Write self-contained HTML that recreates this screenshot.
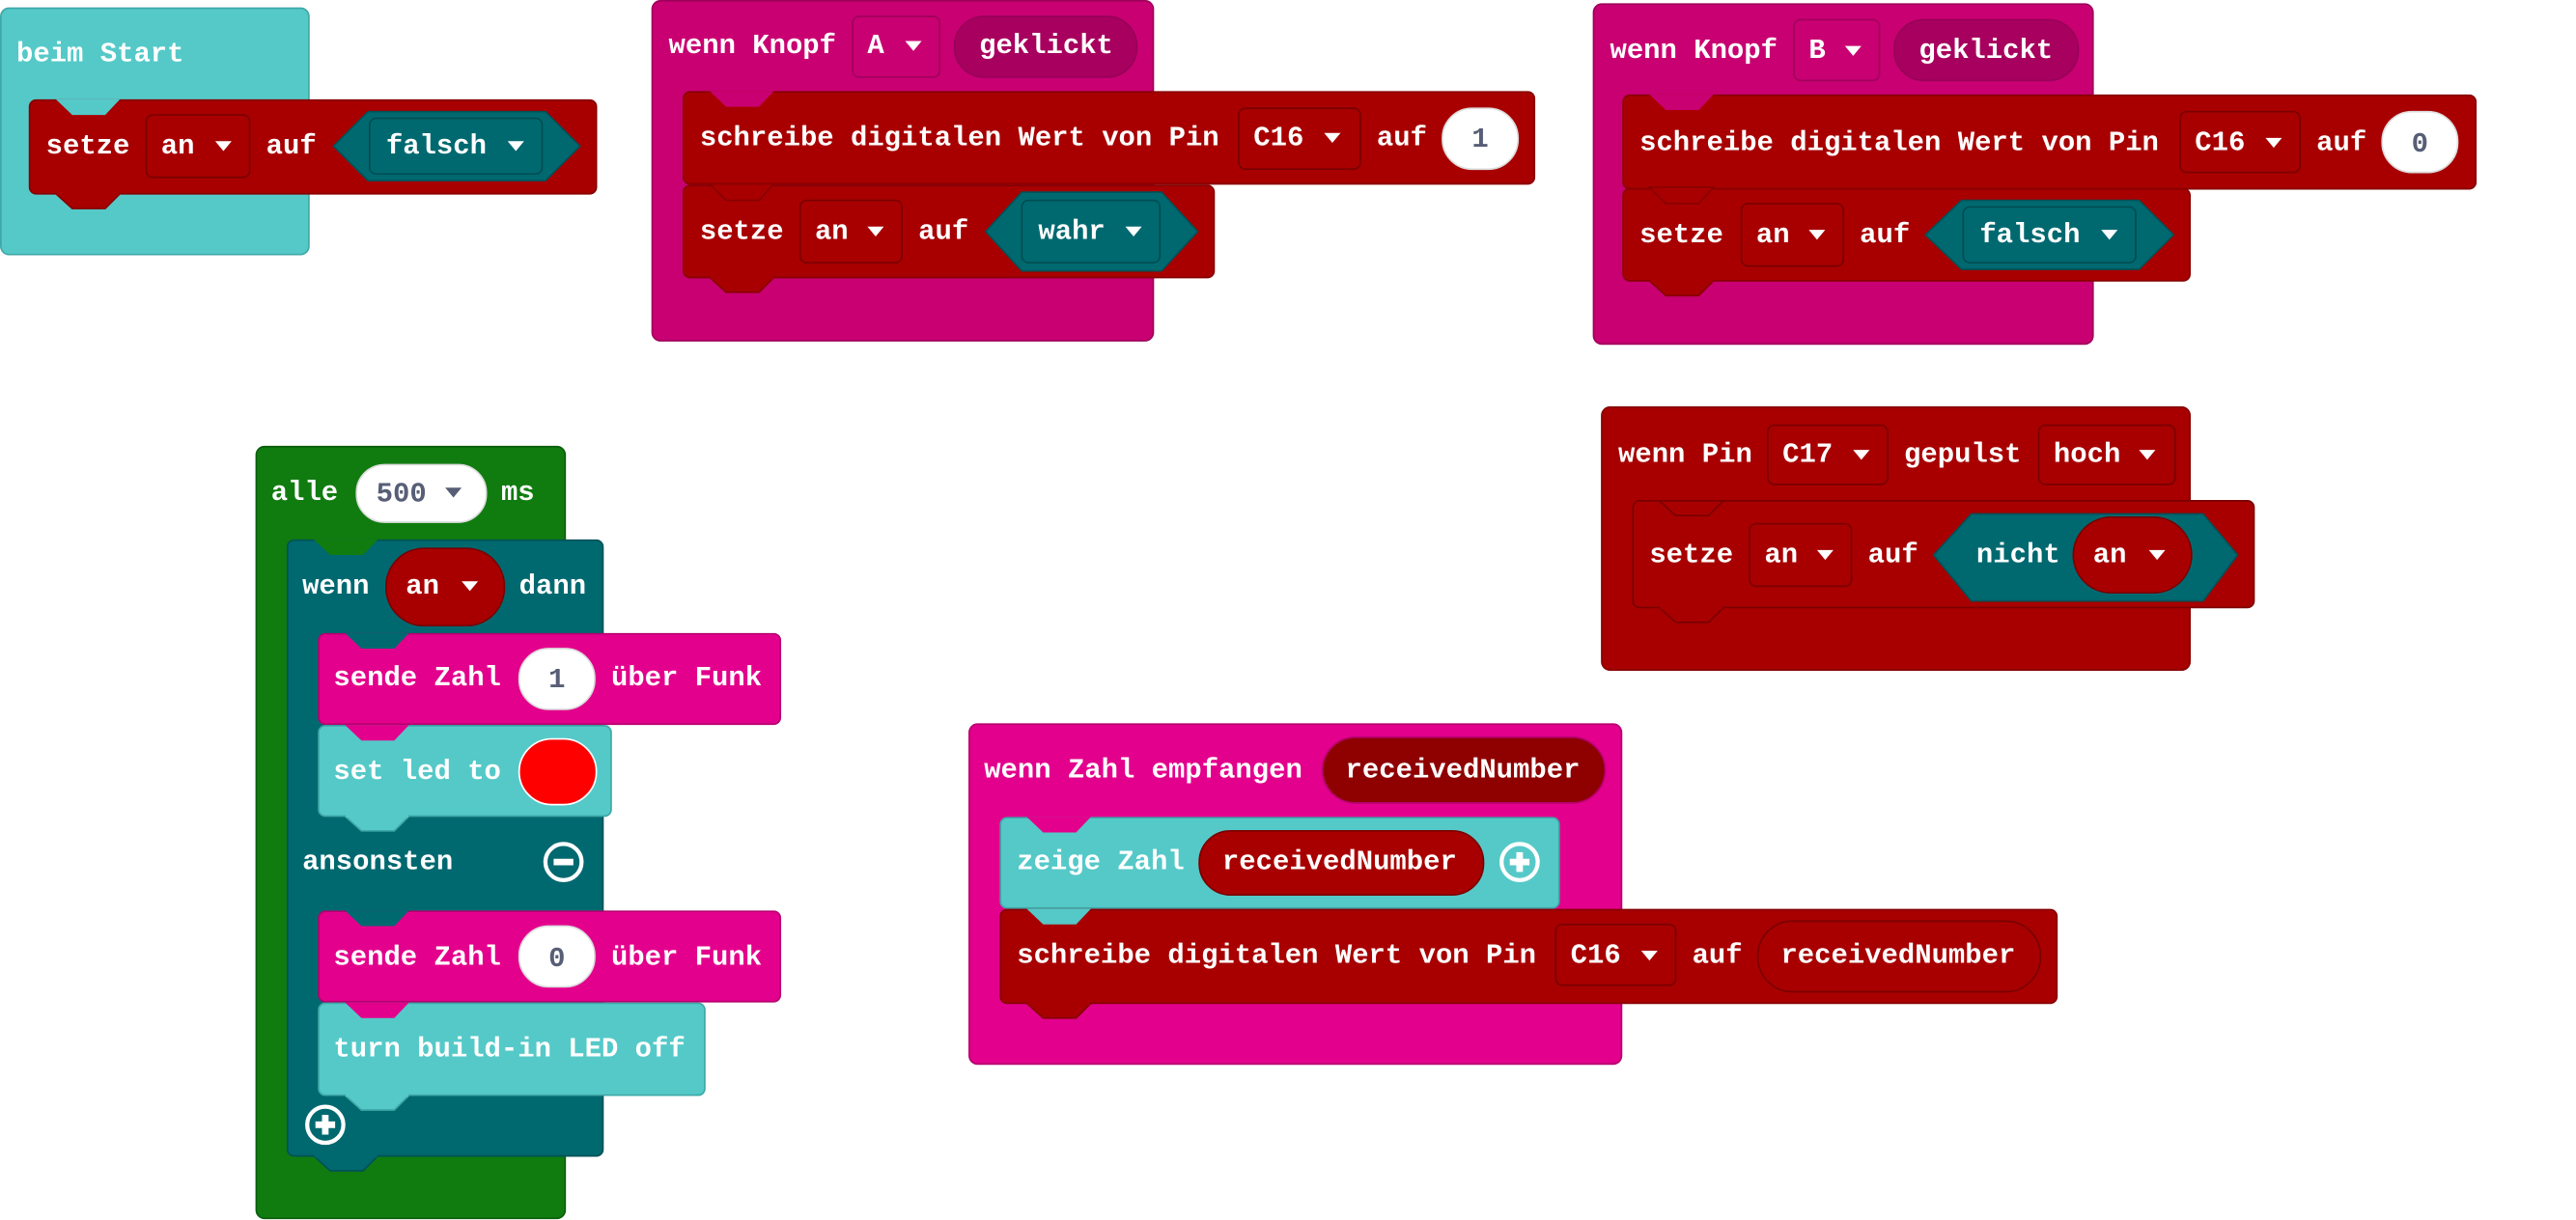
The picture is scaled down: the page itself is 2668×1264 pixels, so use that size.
<!DOCTYPE html>
<html><head><meta charset="utf-8">
<style>
html,body{margin:0;padding:0;background:#fff;width:2668px;height:1264px;overflow:hidden}
svg{display:block}
text{font-family:"Liberation Mono",monospace;font-weight:bold;font-size:17px;fill:#fff;dominant-baseline:central}
.g{fill:#575e75}
</style></head><body>
<svg width="2668" height="1264" viewBox="0 0 1568 743" preserveAspectRatio="none" xmlns="http://www.w3.org/2000/svg">
<!-- ===== Block 1: beim Start ===== -->
<rect x="0.5" y="5" width="187.5" height="150" rx="5" fill="#55c9c8" stroke="#3fa8a7"/>
<rect x="18" y="61" width="345" height="57" rx="4" fill="#a80000" stroke="#870000"/>
<polygon points="34,60.5 73,60.5 64,70 44,70" fill="#55c9c8"/>
<polygon points="34,118 73,118 64,127 44,127" fill="#a80000" stroke="#870000"/>
<rect x="34.5" y="116" width="38" height="3" fill="#a80000"/>
<text x="10" y="33">beim Start</text>
<text x="28" y="89">setze</text>
<rect x="89" y="70" width="63" height="38" rx="4" fill="#a80000" stroke="#7a0000"/>
<text x="98" y="89">an</text><polygon points="131,86 141,86 136,92" fill="#fff"/>
<text x="162" y="89">auf</text>
<polygon points="203,89 224,68 332,68 353,89 332,110 224,110" fill="#006970" stroke="#005257"/>
<rect x="225" y="72" width="105" height="34" rx="4" fill="#006970" stroke="#004d52"/>
<text x="235" y="89">falsch</text><polygon points="309,86 319,86 314,92" fill="#fff"/>

<!-- ===== Block 2: wenn Knopf A ===== -->
<rect x="397" y="0.5" width="305" height="207" rx="5" fill="#c90072" stroke="#a0005b"/>
<text x="407" y="28">wenn Knopf</text>
<rect x="519" y="10" width="53" height="37" rx="4" fill="#c90072" stroke="#a0005b"/>
<text x="528" y="28">A</text><polygon points="551,25 561,25 556,31" fill="#fff"/>
<rect x="581" y="10" width="111" height="37" rx="18" fill="#a8005e" stroke="#98005a"/>
<text x="596" y="28">geklickt</text>
<rect x="416" y="56" width="518" height="56" rx="4" fill="#a80000" stroke="#870000"/>
<polygon points="432,55.5 471,55.5 462,65 442,65" fill="#c90072"/>
<text x="426" y="84">schreibe digitalen Wert von Pin</text>
<rect x="754" y="66" width="74" height="37" rx="4" fill="#a80000" stroke="#7a0000"/>
<text x="763" y="84">C16</text><polygon points="806,81 816,81 811,87" fill="#fff"/>
<text x="838" y="84">auf</text>
<rect x="878" y="66" width="46" height="37" rx="18" fill="#fff" stroke="#ddd"/>
<text x="901" y="85" class="g" text-anchor="middle">1</text>
<rect x="416" y="113" width="323" height="56" rx="4" fill="#a80000" stroke="#870000"/>
<polygon points="432,112 471,112 462,122 442,122" fill="#a80000" stroke="#870000"/>
<polygon points="432,169 471,169 462,178 442,178" fill="#a80000" stroke="#870000"/>
<rect x="432.5" y="167" width="38" height="3" fill="#a80000"/>
<text x="426" y="141">setze</text>
<rect x="487" y="122" width="62" height="38" rx="4" fill="#a80000" stroke="#7a0000"/>
<text x="496" y="141">an</text><polygon points="528,138 538,138 533,144" fill="#fff"/>
<text x="559" y="141">auf</text>
<polygon points="600,141 622,117 707,117 729,141 707,165 622,165" fill="#006970" stroke="#005257"/>
<rect x="622" y="122" width="84" height="38" rx="4" fill="#006970" stroke="#004d52"/>
<text x="632" y="141">wahr</text><polygon points="685,138 695,138 690,144" fill="#fff"/>

<!-- ===== Block 3: wenn Knopf B ===== -->
<rect x="970" y="2.5" width="304" height="207" rx="5" fill="#c90072" stroke="#a0005b"/>
<text x="980" y="31">wenn Knopf</text>
<rect x="1092" y="12" width="52" height="37" rx="4" fill="#c90072" stroke="#a0005b"/>
<text x="1101" y="31">B</text><polygon points="1123,28 1133,28 1128,34" fill="#fff"/>
<rect x="1153" y="12" width="112" height="37" rx="18" fill="#a8005e" stroke="#98005a"/>
<text x="1168" y="31">geklickt</text>
<rect x="988" y="58" width="519" height="57" rx="4" fill="#a80000" stroke="#870000"/>
<polygon points="1004,57.5 1043,57.5 1034,67 1014,67" fill="#c90072"/>
<text x="998" y="87">schreibe digitalen Wert von Pin</text>
<rect x="1327" y="68" width="73" height="37" rx="4" fill="#a80000" stroke="#7a0000"/>
<text x="1336" y="87">C16</text><polygon points="1379,84 1389,84 1384,90" fill="#fff"/>
<text x="1410" y="87">auf</text>
<rect x="1450" y="68" width="46" height="37" rx="18" fill="#fff" stroke="#ddd"/>
<text x="1473" y="88" class="g" text-anchor="middle">0</text>
<rect x="988" y="115" width="345" height="56" rx="4" fill="#a80000" stroke="#870000"/>
<polygon points="1004,114 1043,114 1034,124 1014,124" fill="#a80000" stroke="#870000"/>
<polygon points="1004,171 1043,171 1034,180 1014,180" fill="#a80000" stroke="#870000"/>
<rect x="1004.5" y="169" width="38" height="3" fill="#a80000"/>
<text x="998" y="143">setze</text>
<rect x="1060" y="124" width="62" height="38" rx="4" fill="#a80000" stroke="#7a0000"/>
<text x="1069" y="143">an</text><polygon points="1101,140 1111,140 1106,146" fill="#fff"/>
<text x="1132" y="143">auf</text>
<polygon points="1172,143 1194,122 1302,122 1323,143 1302,164 1194,164" fill="#006970" stroke="#005257"/>
<rect x="1195" y="126" width="105" height="34" rx="4" fill="#006970" stroke="#004d52"/>
<text x="1205" y="143">falsch</text><polygon points="1279,140 1289,140 1284,146" fill="#fff"/>

<!-- ===== Block 4: alle 500 ms ===== -->
<rect x="156" y="272" width="188" height="470" rx="5" fill="#107c10" stroke="#0b5e0b"/>
<text x="165" y="300">alle</text>
<rect x="217" y="283" width="79" height="35" rx="17" fill="#fff" stroke="#ddd"/>
<text x="229" y="301" class="g">500</text><polygon points="271,297 281,297 276,303" fill="#575e75"/>
<text x="305" y="300">ms</text>
<rect x="175" y="329" width="192" height="375" rx="4" fill="#006970" stroke="#005257"/>
<polygon points="191,328.5 230,328.5 221,338 201,338" fill="#107c10"/>
<polygon points="191,704 230,704 221,713 201,713" fill="#006970" stroke="#005257"/>
<rect x="191.5" y="702" width="38" height="3" fill="#006970"/>
<text x="184" y="357">wenn</text>
<rect x="235" y="334" width="72" height="47" rx="23" fill="#a80000" stroke="#7a0000"/>
<text x="247" y="357">an</text><polygon points="281,354 291,354 286,360" fill="#fff"/>
<text x="316" y="357">dann</text>
<rect x="194" y="386" width="281" height="55" rx="4" fill="#e3008c" stroke="#b6006f"/>
<polygon points="210,385.5 249,385.5 240,395 220,395" fill="#006970"/>
<text x="203" y="413">sende Zahl</text>
<rect x="316" y="395" width="46" height="37" rx="18" fill="#fff" stroke="#ddd"/>
<text x="339" y="414" class="g" text-anchor="middle">1</text>
<text x="372" y="413">über Funk</text>
<rect x="194" y="442" width="178" height="55" rx="4" fill="#55c9c8" stroke="#3fa8a7"/>
<polygon points="210,441.5 249,441.5 240,451 220,451" fill="#e3008c"/>
<polygon points="210,497 249,497 240,506 220,506" fill="#55c9c8" stroke="#3fa8a7"/>
<rect x="210.5" y="495" width="38" height="3" fill="#55c9c8"/>
<text x="203" y="470">set led to</text>
<rect x="316" y="450" width="47" height="40" rx="20" fill="#ff0000" stroke="#fff"/>
<text x="184" y="525">ansonsten</text>
<circle cx="343" cy="525" r="11" fill="none" stroke="#fff" stroke-width="2.5"/>
<line x1="337" y1="525" x2="349" y2="525" stroke="#fff" stroke-width="4"/>
<rect x="194" y="555" width="281" height="55" rx="4" fill="#e3008c" stroke="#b6006f"/>
<polygon points="210,554.5 249,554.5 240,564 220,564" fill="#006970"/>
<text x="203" y="583">sende Zahl</text>
<rect x="316" y="564" width="46" height="37" rx="18" fill="#fff" stroke="#ddd"/>
<text x="339" y="584" class="g" text-anchor="middle">0</text>
<text x="372" y="583">über Funk</text>
<rect x="194" y="611" width="235" height="56" rx="4" fill="#55c9c8" stroke="#3fa8a7"/>
<polygon points="210,610.5 249,610.5 240,620 220,620" fill="#e3008c"/>
<polygon points="210,667 249,667 240,676 220,676" fill="#55c9c8" stroke="#3fa8a7"/>
<rect x="210.5" y="665" width="38" height="3" fill="#55c9c8"/>
<text x="203" y="639">turn build-in LED off</text>
<circle cx="198" cy="685" r="11" fill="none" stroke="#fff" stroke-width="2.5"/>
<line x1="192" y1="685" x2="204" y2="685" stroke="#fff" stroke-width="4"/>
<line x1="198" y1="679" x2="198" y2="691" stroke="#fff" stroke-width="4"/>

<!-- ===== Block 5: wenn Pin ===== -->
<rect x="975" y="248" width="358" height="160" rx="5" fill="#a80000" stroke="#870000"/>
<text x="985" y="277">wenn Pin</text>
<rect x="1076" y="259" width="73" height="36" rx="4" fill="#a80000" stroke="#7a0000"/>
<text x="1085" y="277">C17</text><polygon points="1128,274 1138,274 1133,280" fill="#fff"/>
<text x="1159" y="277">gepulst</text>
<rect x="1241" y="259" width="83" height="36" rx="4" fill="#a80000" stroke="#7a0000"/>
<text x="1250" y="277">hoch</text><polygon points="1302,274 1312,274 1307,280" fill="#fff"/>
<rect x="994" y="305" width="378" height="65" rx="4" fill="#a80000" stroke="#7a0000"/>
<polygon points="1010,305 1049,305 1040,314 1020,314" fill="#a80000" stroke="#7a0000"/>
<polygon points="1010,370 1049,370 1040,379 1020,379" fill="#a80000" stroke="#7a0000"/>
<rect x="1010.5" y="368" width="38" height="3" fill="#a80000"/>
<text x="1004" y="338">setze</text>
<rect x="1065" y="319" width="62" height="38" rx="4" fill="#a80000" stroke="#7a0000"/>
<text x="1074" y="338">an</text><polygon points="1106,335 1116,335 1111,341" fill="#fff"/>
<text x="1137" y="338">auf</text>
<polygon points="1177,338 1200,313 1341,313 1362,338 1341,366 1200,366" fill="#006970" stroke="#005257"/>
<text x="1203" y="338">nicht</text>
<rect x="1262" y="315" width="72" height="46" rx="23" fill="#a80000" stroke="#7a0000"/>
<text x="1274" y="338">an</text><polygon points="1308,335 1318,335 1313,341" fill="#fff"/>

<!-- ===== Block 6: wenn Zahl empfangen ===== -->
<rect x="590" y="441" width="397" height="207" rx="5" fill="#e3008c" stroke="#b6006f"/>
<text x="599" y="469">wenn Zahl empfangen</text>
<rect x="805" y="449" width="172" height="40" rx="20" fill="#8f0000" stroke="#b6006f"/>
<text x="819" y="469">receivedNumber</text>
<rect x="609" y="498" width="340" height="55" rx="4" fill="#55c9c8" stroke="#3fa8a7"/>
<polygon points="625,497.5 664,497.5 655,507 635,507" fill="#e3008c"/>
<text x="619" y="525">zeige Zahl</text>
<rect x="730" y="506" width="173" height="39" rx="19" fill="#a80000" stroke="#7a0000"/>
<text x="744" y="525">receivedNumber</text>
<circle cx="925" cy="525" r="11" fill="none" stroke="#fff" stroke-width="2.5"/>
<line x1="919" y1="525" x2="931" y2="525" stroke="#fff" stroke-width="4"/>
<line x1="925" y1="519" x2="925" y2="531" stroke="#fff" stroke-width="4"/>
<rect x="609" y="554" width="643" height="57" rx="4" fill="#a80000" stroke="#870000"/>
<polygon points="625,553.5 664,553.5 655,563 635,563" fill="#55c9c8"/>
<polygon points="625,611 664,611 655,620 635,620" fill="#a80000" stroke="#870000"/>
<rect x="625.5" y="609" width="38" height="3" fill="#a80000"/>
<text x="619" y="582">schreibe digitalen Wert von Pin</text>
<rect x="947" y="563" width="73" height="37" rx="4" fill="#a80000" stroke="#7a0000"/>
<text x="956" y="582">C16</text><polygon points="999,579 1009,579 1004,585" fill="#fff"/>
<text x="1030" y="582">auf</text>
<rect x="1070" y="561" width="172" height="43" rx="21" fill="#a80000" stroke="#7a0000"/>
<text x="1084" y="582">receivedNumber</text>
</svg>
</body></html>
